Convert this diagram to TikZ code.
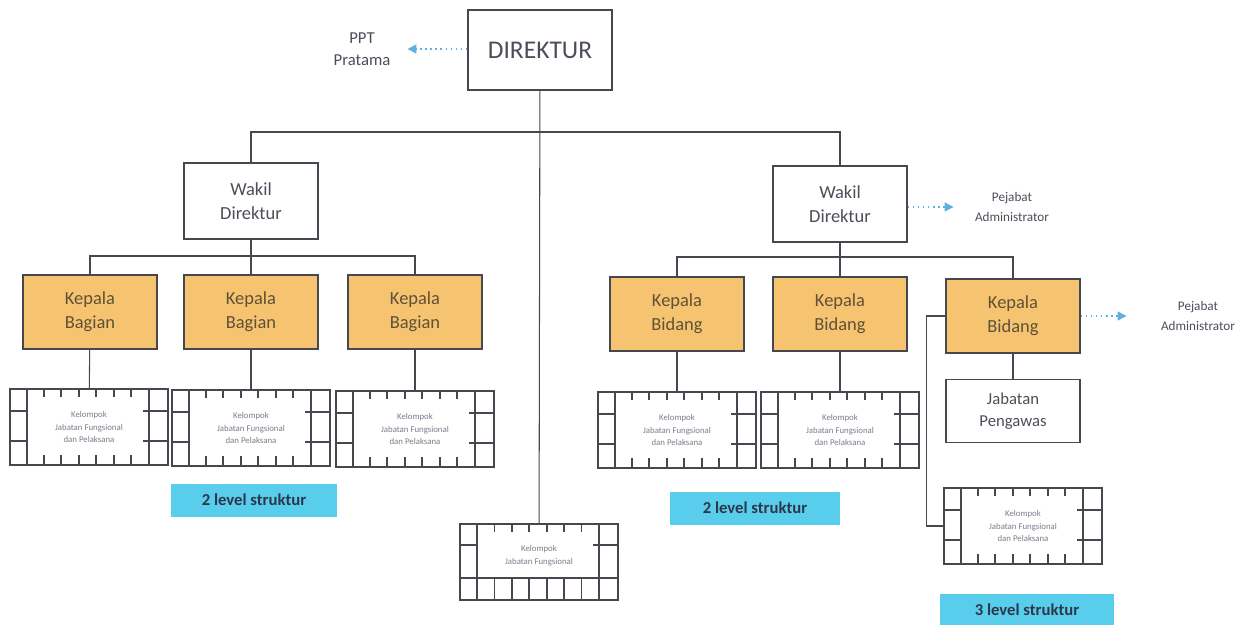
\documentclass[tikz,border=0pt]{standalone}
\usepackage{fontspec}
\setmainfont{Carlito}
\usepackage{tikz}
\usetikzlibrary{calc,positioning,arrows.meta}

\definecolor{boxline}{RGB}{70,72,80}
\definecolor{kepala}{RGB}{246,196,112}
\definecolor{kepalatext}{RGB}{95,80,55}
\definecolor{levelbg}{RGB}{88,206,236}
\definecolor{leveltext}{RGB}{45,55,75}
\definecolor{dotblue}{RGB}{95,175,225}
\definecolor{txtgray}{RGB}{75,78,88}
\definecolor{smallgray}{RGB}{125,125,140}

% inner lines of a "Kelompok" frame (3 rows each side), box is 158 x 76
\newcommand{\kelframe}[1]{%
  \begin{scope}[shift={(#1.north west)}]
    \draw[frame line] (18,0) -- (18,76) (140,0) -- (140,76);
    \draw[frame line] (0,23) -- (18,23) (0,53) -- (18,53);
    \draw[frame line] (158,23) -- (134,23) (158,53) -- (134,53);
    \draw[frame line] (35,0) -- (35,9) (52,0) -- (52,9) (70,0) -- (70,9)
      (87,0) -- (87,9) (105,0) -- (105,9) (122,0) -- (122,9);
    \draw[frame line] (35,76) -- (35,67) (52,76) -- (52,67) (70,76) -- (70,67)
      (87,76) -- (87,67) (105,76) -- (105,67) (122,76) -- (122,67);
  \end{scope}
}
% frame with a bottom row of cells
\newcommand{\kelframerow}[1]{%
  \begin{scope}[shift={(#1.north west)}]
    \draw[frame line] (18,0) -- (18,76) (140,0) -- (140,76);
    \draw[frame line] (0,22) -- (18,22) (158,22) -- (134,22);
    \draw[frame line] (0,55) -- (158,55);
    \foreach \tk in {1,...,6}
      \draw[frame line] ({18+\tk*17.4},0) -- ++(0,9) ({18+\tk*17.4},76) -- ++(0,-21);
  \end{scope}
}

\begin{document}
\begin{tikzpicture}[x=0.02cm,y=-0.02cm,line width=0.6pt,
    plain box/.style={draw=boxline,fill=white,text=txtgray,align=center,
      minimum width=2.68cm,minimum height=1.52cm,
      font=\fontsize{10.5}{13.5}\selectfont},
    kepala box/.style={plain box,fill=kepala,text=kepalatext,minimum height=1.48cm},
    kelompok box/.style={draw=boxline,line width=1pt,fill=white,text=smallgray,
      align=center,minimum width=3.16cm,minimum height=1.52cm,inner sep=0pt,
      font=\fontsize{5}{7}\selectfont},
    frame line/.style={draw=boxline,line width=1pt},
    level tag/.style={fill=levelbg,text=leveltext,minimum height=0.66cm,
      font=\fontsize{9.5}{11}\selectfont\bfseries},
    side note/.style={text=txtgray,align=center,font=\fontsize{7.5}{11}\selectfont},
    link/.style={draw=boxline,line width=0.6pt},
    dotarrow/.style={draw=dotblue,dotted,line width=0.9pt,-{Triangle[length=5pt,width=5pt]}}]

  \useasboundingbox (0,0) rectangle (1244,625);

  % top
  \node[plain box,minimum width=2.88cm,minimum height=1.6cm,
        font=\fontsize{14.5}{17}\selectfont] (direktur) at (540,50) {DIREKTUR};
  \node[side note,font=\fontsize{9.5}{12.5}\selectfont] (ppt) at (362,49) {PPT\\Pratama};

  % wakil direktur
  \node[plain box] (wakilL) at (251,201) {Wakil\\Direktur};
  \node[plain box] (wakilR) at (840,204) {Wakil\\Direktur};
  \node[side note] (pejabat1) at (1012,207) {Pejabat\\Administrator};

  % kepala bagian / bidang
  \node[kepala box] (bagian1) at (90,312) {Kepala\\Bagian};
  \node[kepala box] (bagian2) at (251,312) {Kepala\\Bagian};
  \node[kepala box] (bagian3) at (415,312) {Kepala\\Bagian};
  \node[kepala box] (bidang1) at (677,314) {Kepala\\Bidang};
  \node[kepala box] (bidang2) at (840,314) {Kepala\\Bidang};
  \node[kepala box] (bidang3) at (1013,316) {Kepala\\Bidang};
  \node[side note] (pejabat2) at (1198,316) {Pejabat\\Administrator};
  \node[plain box,minimum height=1.26cm,font=\fontsize{9.5}{12.5}\selectfont]
        (pengawas) at (1013,411) {Jabatan\\Pengawas};

  % kelompok jabatan fungsional
  \node[kelompok box] (kel1) at (89,427) {Kelompok\\Jabatan Fungsional\\dan Pelaksana};
  \node[kelompok box] (kel2) at (251,428) {Kelompok\\Jabatan Fungsional\\dan Pelaksana};
  \node[kelompok box] (kel3) at (415,429) {Kelompok\\Jabatan Fungsional\\dan Pelaksana};
  \node[kelompok box] (kel4) at (677,430) {Kelompok\\Jabatan Fungsional\\dan Pelaksana};
  \node[kelompok box] (kel5) at (840,430) {Kelompok\\Jabatan Fungsional\\dan Pelaksana};
  \node[kelompok box] (kel6) at (1023,526) {Kelompok\\Jabatan Fungsional\\dan Pelaksana};
  \node[kelompok box] (kelmid) at (539,562) {Kelompok\\Jabatan Fungsional\\[1pt]\mbox{}};
  \foreach \k in {kel1,kel2,kel3,kel4,kel5,kel6}{\kelframe{\k}}
  \kelframerow{kelmid}

  % level tags
  \node[level tag,minimum width=3.34cm] (levelA) at (254,500) {2 level struktur};
  \node[level tag,minimum width=3.4cm] (levelB) at (755,508) {2 level struktur};
  \node[level tag,minimum width=3.48cm] (levelC) at (1027,610) {3 level struktur};

  % connectors
  \coordinate (topbar) at (540,132);
  \coordinate (barL) at (251,256);
  \coordinate (barR) at (840,257);
  \draw[link] (direktur) -- (kelmid);
  \draw[link] (wakilL.north) |- (topbar) -| (wakilR.north);
  \draw[link] (bagian1.north) |- (barL) -| (bagian3.north);
  \draw[link] (wakilL) -- (bagian2);
  \draw[link] (bidang1.north) |- (barR) -| (bidang3.north);
  \draw[link] (wakilR) -- (bidang2);
  \draw[link] (bagian1) -- (kel1);
  \draw[link] (bagian2) -- (kel2);
  \draw[link] (bagian3) -- (kel3);
  \draw[link] (bidang1) -- (kel4);
  \draw[link] (bidang2) -- (kel5);
  \draw[link] (bidang3) -- (pengawas);
  \draw[link] (bidang3.west) -- ++(-19,0) |- (kel6.west);

  % dotted arrows
  \draw[dotarrow] (direktur.west |- ppt) -- ++(-60,0);
  \draw[dotarrow] (wakilR.east |- pejabat1) -- ++(46,0);
  \draw[dotarrow] (bidang3.east |- pejabat2) -- ++(46,0);

\end{tikzpicture}
\end{document}
